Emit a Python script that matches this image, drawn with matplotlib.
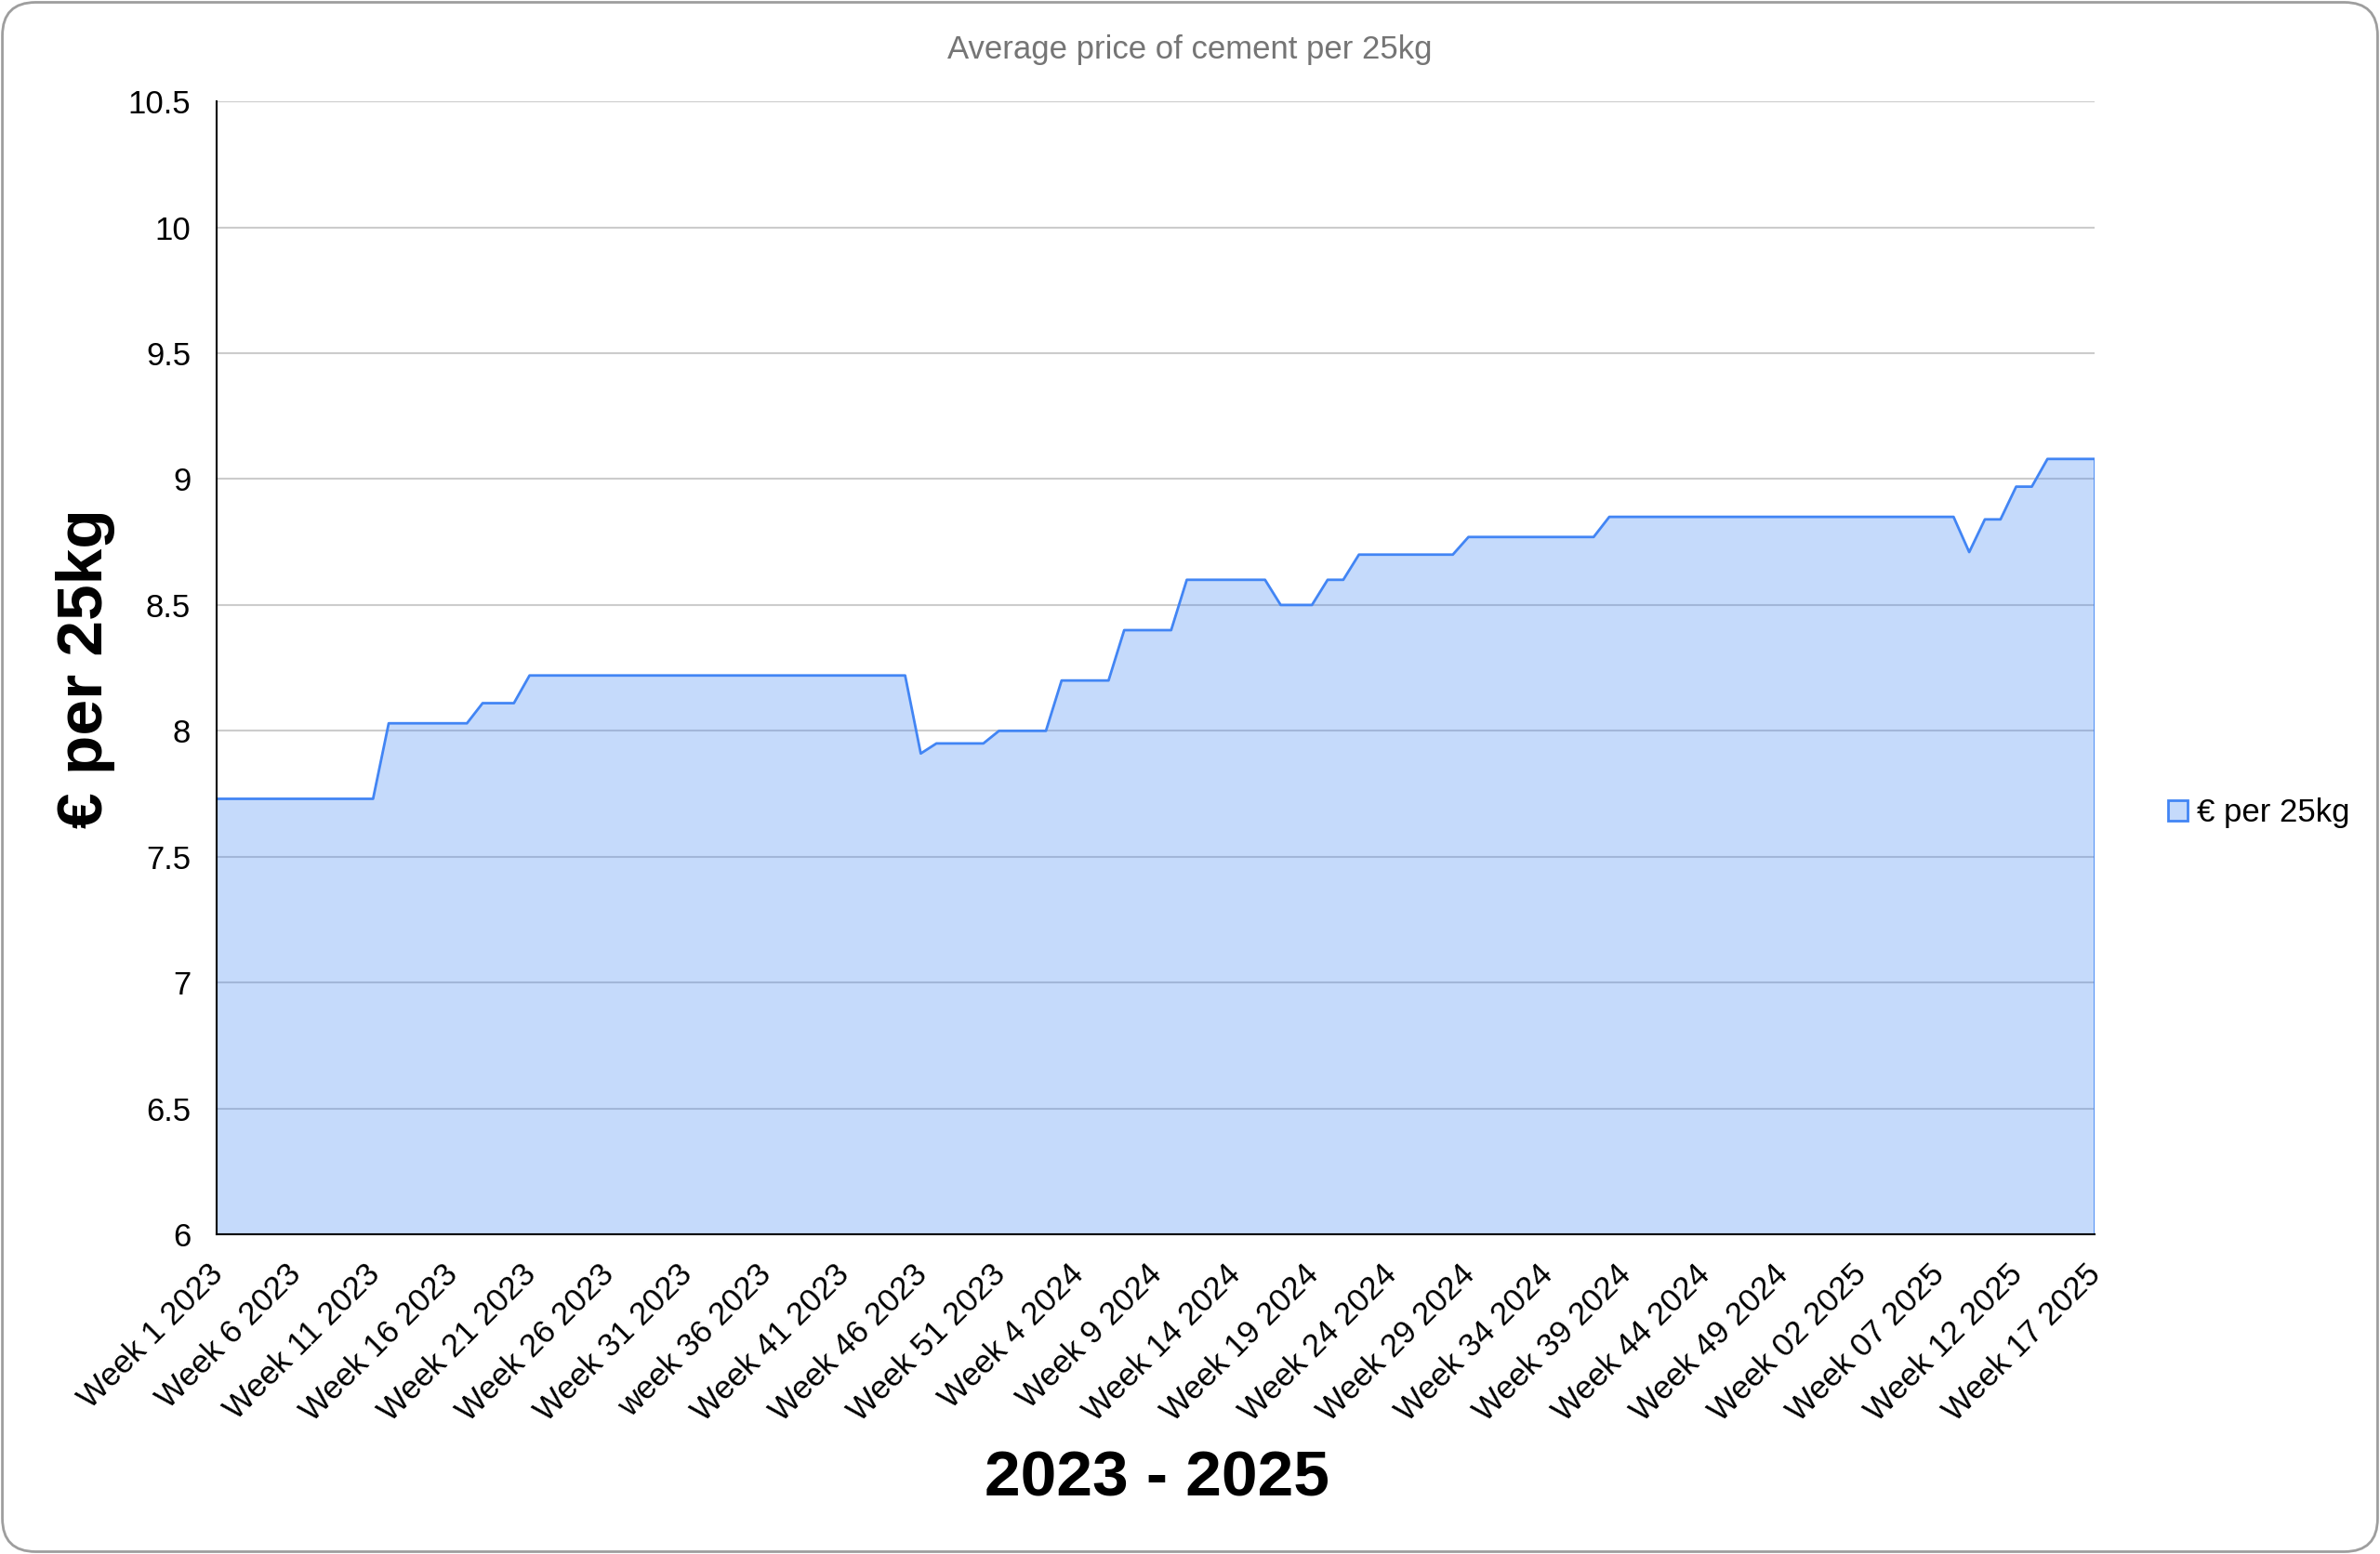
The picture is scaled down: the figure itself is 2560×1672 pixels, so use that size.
import numpy as np
import matplotlib
matplotlib.use('Agg')
from matplotlib import pyplot as plt
from matplotlib.patches import Patch, FancyBboxPatch
from matplotlib.transforms import ScaledTranslation

plt.rcParams['font.family'] = ['Liberation Sans', 'DejaVu Sans']

# weekly average price, week 1 2023 .. week 17 2025 (121 weeks)
prices = (
    [7.73] * 11 + [8.03] * 6 + [8.11] * 3 + [8.22] * 25 + [7.91] + [7.95] * 4
    + [8.00] * 4 + [8.20] * 4 + [8.40] * 4 + [8.60] * 6 + [8.50] * 3 + [8.60] * 2
    + [8.70] * 7 + [8.77] * 9 + [8.85] * 23 + [8.71] + [8.84] * 2 + [8.97] * 2
    + [9.08] * 4
)
# every 5th week is labelled
tick_labels = [
    'Week 1 2023', 'Week 6 2023', 'Week 11 2023', 'Week 16 2023', 'Week 21 2023',
    'Week 26 2023', 'Week 31 2023', 'week 36 2023', 'Week 41 2023', 'Week 46 2023',
    'Week 51 2023', 'Week 4 2024', 'Week 9 2024', 'Week 14 2024', 'Week 19 2024',
    'Week 24 2024', 'Week 29 2024', 'Week 34 2024', 'Week 39 2024', 'Week 44 2024',
    'Week 49 2024', 'Week 02 2025', 'Week 07 2025', 'Week 12 2025', 'Week 17 2025',
]
series_name = '€ per 25kg'

blue = '#4285F4'
fill = (66 / 255, 133 / 255, 244 / 255, 0.3)

x = np.arange(len(prices))
y = np.array(prices)

fig = plt.figure(figsize=(25.6, 16.72), dpi=100)
ax = fig.add_axes([0.091, 0.2057, 0.789, 0.729])

# 区域填充 + 折线
ax.fill_between(x, y, 6, facecolor=fill, edgecolor='none', zorder=2)
ax.plot(x, y, color=blue, lw=2, zorder=3)
ax.vlines(x[-1], 6, y[-1], color=blue, lw=2, zorder=3)

ax.set_xlim(x[0], x[-1])
ax.set_ylim(6, 10.5)
ax.set_yticks(np.arange(6, 10.51, 0.5))
ax.set_yticklabels(['6', '6.5', '7', '7.5', '8', '8.5', '9', '9.5', '10', '10.5'])
ax.set_xticks(x[::5])
ax.set_xticklabels(tick_labels, rotation=45, ha='right', rotation_mode='anchor')
ax.tick_params(axis='y', length=0, pad=20, labelsize=25)
ax.tick_params(axis='x', length=0, pad=19, labelsize=25)
# x标签稍微左移
shift = ScaledTranslation(-7 / 72, 0, fig.dpi_scale_trans)
for lbl in ax.get_xticklabels():
    lbl.set_transform(lbl.get_transform() + shift)

ax.grid(axis='y', color='#CCCCCC', lw=1.5, zorder=1)
ax.set_axisbelow(True)
for s in ['top', 'right']:
    ax.spines[s].set_visible(False)
for s in ['left', 'bottom']:
    ax.spines[s].set_color('black')
    ax.spines[s].set_linewidth(1.5)
    ax.spines[s].set_zorder(4)

fig.text(0.5, 0.978, 'Average price of cement per 25kg', ha='center', va='top',
         fontsize=25, color='#757575')
fig.text(0.036, 0.57, '€ per 25kg', rotation=90, ha='center', va='center',
         fontsize=50, fontweight='bold')
fig.text(0.486, 0.048, '2023 - 2025', ha='center', va='center',
         fontsize=50, fontweight='bold')

handle = Patch(facecolor=fill, edgecolor=blue, lw=2)
fig.legend([handle], [series_name], loc='center left', bbox_to_anchor=(0.911, 0.477),
           frameon=False, fontsize=25, handlelength=0.6, handleheight=0.6,
           handletextpad=0.3, borderpad=0, borderaxespad=0)

# 外框 圆角
frame = FancyBboxPatch((0.001, 0.0015), 0.998, 0.997, boxstyle='round,pad=0,rounding_size=0.014',
                       mutation_aspect=2560 / 1672, transform=fig.transFigure,
                       facecolor='none', edgecolor='#9E9E9E', lw=2)
fig.patches.append(frame)

plt.savefig('out.png', dpi=100)
